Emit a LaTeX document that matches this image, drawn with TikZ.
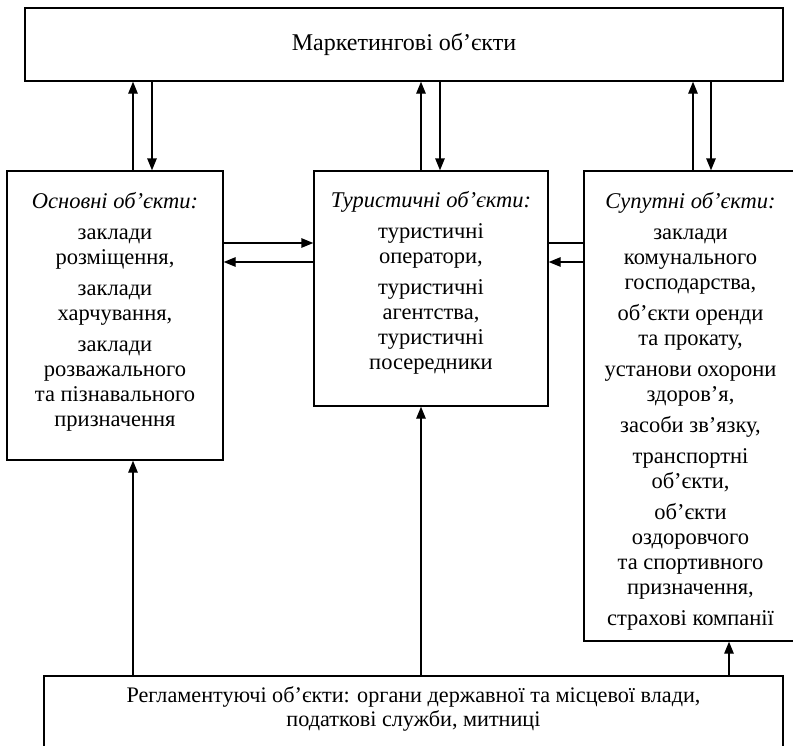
\documentclass[tikz,border=0pt]{standalone}
\usepackage{fontspec}
\setmainfont{Liberation Serif}
\usetikzlibrary{arrows.meta,calc}
\begin{document}
\begin{tikzpicture}[x=1pt,y=-1pt,
  box/.style={draw,line width=1.4pt,rectangle,inner sep=0pt},
  txt/.style={inner sep=0pt,align=center,font=\fontsize{22.5}{25}\selectfont},
  arr/.style={line width=1.4pt,-{Triangle[length=12pt,width=9.5pt]}},
  ln/.style={line width=1.4pt}]
\useasboundingbox (0,0) rectangle (793,745);
\clip (0,0) rectangle (793,745);
% boxes
\node[box,minimum width=758pt,minimum height=73pt] (top) at (404,44.5) {};
\node[box,minimum width=216pt,minimum height=289pt] (left) at (115,315.5) {};
\node[box,minimum width=234pt,minimum height=235pt] (mid) at (431,288.5) {};
\node[box,minimum width=213pt,minimum height=470pt] (right) at (690.5,406) {};
\node[box,minimum width=739pt,minimum height=74pt] (bottom) at (413.5,713) {};
% texts
\node[txt,font=\fontsize{24}{26}\selectfont] (toptext) at (top.center) {Маркетингові об’єкти};
\node[txt] (lefttext) at (115,312)
  {\textit{Основні об’єкти:}\\[6pt]заклади\\розміщення,\\[6pt]заклади\\харчування,\\[6pt]заклади\\розважального\\та пізнавального\\призначення};
\node[txt] (midtext) at (431,283)
  {\textit{Туристичні об’єкти:}\\[6pt]туристичні\\оператори,\\[6pt]туристичні\\агентства,\\туристичні\\посередники};
\node[txt] (righttext) at (690.5,411.5)
  {\textit{Супутні об’єкти:}\\[6pt]заклади\\комунального\\господарства,\\[6pt]об’єкти оренди\\та прокату,\\[6pt]установи охорони\\здоров’я,\\[6pt]засоби зв’язку,\\[6pt]транспортні\\об’єкти,\\[6pt]об’єкти\\оздоровчого\\та спортивного\\призначення,\\[6pt]страхові компанії};
\node[txt,font=\fontsize{22.2}{24}\selectfont] (bottomtext) at (413.5,709)
  {Регламентуючі об’єкти: органи державної та місцевої влади,\\податкові служби, митниці};
% connector positions
\coordinate (la) at (133,0);
\coordinate (lb) at (152,0);
\coordinate (ma) at (421,0);
\coordinate (mb) at (440,0);
\coordinate (ra) at (693,0);
\coordinate (rb) at (711,0);
\coordinate (rc) at (729,0);
\coordinate (h1) at (0,243);
\coordinate (h2) at (0,262);
% top connections
\draw[arr] (left.north -| la) -- (top.south -| la);
\draw[arr] (top.south -| lb) -- (left.north -| lb);
\draw[arr] (mid.north -| ma) -- (top.south -| ma);
\draw[arr] (top.south -| mb) -- (mid.north -| mb);
\draw[arr] (right.north -| ra) -- (top.south -| ra);
\draw[arr] (top.south -| rb) -- (right.north -| rb);
% horizontal connections
\draw[arr] (left.east |- h1) -- (mid.west |- h1);
\draw[arr] (mid.west |- h2) -- (left.east |- h2);
\draw[ln] (right.west |- h1) -- (mid.east |- h1);
\draw[arr] (right.west |- h2) -- (mid.east |- h2);
% bottom connections
\draw[arr] (bottom.north -| la) -- (left.south -| la);
\draw[arr] (bottom.north -| ma) -- (mid.south -| ma);
\draw[arr] (bottom.north -| rc) -- (right.south -| rc);
\end{tikzpicture}
\end{document}
